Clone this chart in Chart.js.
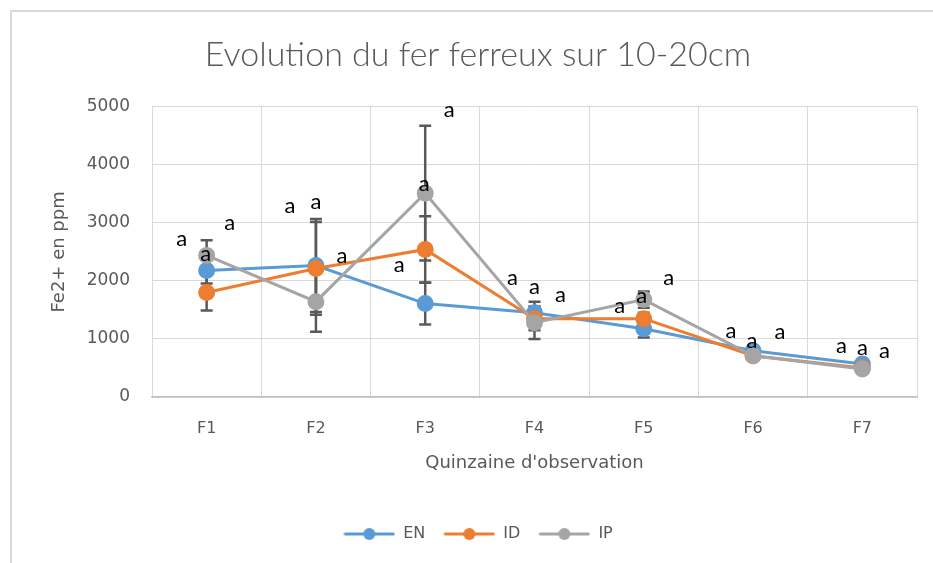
<!DOCTYPE html>
<html>
<head>
<meta charset="utf-8">
<script src="https://cdn.jsdelivr.net/npm/chart.js@4.4.1/dist/chart.umd.min.js"></script>
<style>
  html, body { margin: 0; padding: 0; background: #fff; overflow: hidden; }
  #wrap { width: 933px; height: 563px; }
  canvas { display: block; }
</style>
</head>
<body>
<div id="wrap"><canvas id="myChart" width="933" height="563"></canvas></div>
<script>
// data
const categories = ['F1', 'F2', 'F3', 'F4', 'F5', 'F6', 'F7'];
const seriesNames = ['EN', 'ID', 'IP'];
const enValues = [2180, 2266, 1609, 1453, 1176, 796, 570];
const idValues = [1800, 2215, 2543, 1350, 1350, 710, 500];
const ipValues = [2440, 1643, 3512, 1280, 1678, 710, 484];
// error bar half-lengths (+/-)
const enErrors = [225, 800, 360, 190, 150, 60, 50];
const idErrors = [310, 800, 570, 200, 100, 60, 50];
const ipErrors = [260, 520, 1160, 280, 140, 60, 50];
// significance letters on each point
const enLetters = ['a', 'a', 'a', 'a', 'a', 'a', 'a'];
const idLetters = ['a', 'a', 'a', 'a', 'a', 'a', 'a'];
const ipLetters = ['a', 'a', 'a', 'a', 'a', 'a', 'a'];
const yTicks = [0, 1000, 2000, 3000, 4000, 5000];

const colors = ['#5B9BD5', '#ED7D31', '#A5A5A5'];
const textGray = '#595959';

// where each letter sits relative to its point (px), like the moved Excel labels
const letterOffsets = [
  [[-25, -29], [-26, -57], [-26, -37], [0, -24], [-24, -21], [-22, -18], [-21, -16]],
  [[23, -68], [26, -10], [24, -137], [26, -22], [-2, -21], [-1, -13], [0, -18]],
  [[-1, 1], [0, -98], [-1, -7], [-22, -43], [25, -20], [27, -22], [22, -16]]
];

// legend marker: short line with a dot
function legendMarker(color) {
  const c = document.createElement('canvas');
  c.width = 52; c.height = 14;
  const g = c.getContext('2d');
  g.strokeStyle = color;
  g.lineWidth = 3;
  g.lineCap = 'round';
  g.beginPath(); g.moveTo(2, 7); g.lineTo(50, 7); g.stroke();
  g.fillStyle = color;
  g.beginPath(); g.arc(26, 7, 6, 0, Math.PI * 2); g.fill();
  return c;
}

const frame = {
  id: 'frame',
  beforeDraw(chart) {
    const c = chart.ctx;
    c.save();
    c.fillStyle = '#fff';
    c.fillRect(0, 0, chart.width, chart.height);
    c.strokeStyle = '#d9d9d9';
    c.lineWidth = 2;
    c.strokeRect(11, 11, 1000, 1000);
    c.restore();
  }
};

const errorBars = {
  id: 'errorBars',
  // drawn under the lines and markers, as in the original
  beforeDatasetsDraw(chart) {
    const c = chart.ctx;
    const ys = chart.scales.y;
    const errs = [enErrors, idErrors, ipErrors];
    c.save();
    c.strokeStyle = '#595959';
    c.lineWidth = 2.5;
    chart.data.datasets.forEach((ds, i) => {
      const meta = chart.getDatasetMeta(i);
      meta.data.forEach((pt, j) => {
        const v = ds.data[j];
        const top = ys.getPixelForValue(v + errs[i][j]);
        const bot = ys.getPixelForValue(v - errs[i][j]);
        c.beginPath();
        c.moveTo(pt.x, top); c.lineTo(pt.x, bot);
        c.moveTo(pt.x - 6, top); c.lineTo(pt.x + 6, top);
        c.moveTo(pt.x - 6, bot); c.lineTo(pt.x + 6, bot);
        c.stroke();
      });
    });
    c.restore();
  },
  afterDraw(chart) {
    const c = chart.ctx;
    const letters = [enLetters, idLetters, ipLetters];
    c.save();
    c.fillStyle = '#000';
    c.font = '22px Lato';
    c.textAlign = 'center';
    c.textBaseline = 'alphabetic';
    chart.data.datasets.forEach((ds, i) => {
      chart.getDatasetMeta(i).data.forEach((pt, j) => {
        const off = letterOffsets[i][j];
        c.fillText(letters[i][j], pt.x + off[0], pt.y + off[1] + 5);
      });
    });
    c.restore();
  }
};

const ctx = document.getElementById('myChart').getContext('2d');
const myChart = new Chart(ctx, {
  type: 'line',
  data: {
    labels: categories,
    datasets: [enValues, idValues, ipValues].map((vals, i) => ({
      label: seriesNames[i],
      data: vals,
      borderColor: colors[i],
      backgroundColor: colors[i],
      pointBackgroundColor: colors[i],
      pointBorderColor: colors[i],
      pointRadius: 7,
      pointHoverRadius: 7,
      borderWidth: 3,
      tension: 0,
      order: 2 - i   // grey on top
    }))
  },
  plugins: [frame, errorBars],
  options: {
    responsive: false,
    animation: false,
    events: [],
    layout: { padding: { left: 39, right: 16, top: 0, bottom: 11 } },
    plugins: {
      title: {
        display: true,
        text: 'Evolution du fer ferreux sur 10-20cm',
        color: textGray,
        font: { family: 'Lato', size: 34, weight: 300 },
        padding: { top: 35, bottom: 31 }
      },
      legend: {
        position: 'bottom',
        labels: {
          usePointStyle: true,
          pointStyleWidth: 52,
          boxHeight: 14,
          color: textGray,
          font: { family: 'DejaVu Sans', size: 16 },
          padding: 18,
          sort: (a, b) => a.datasetIndex - b.datasetIndex,
          generateLabels(chart) {
            return chart.data.datasets.map((ds, i) => ({
              text: ds.label,
              pointStyle: legendMarker(colors[i]),
              fillStyle: colors[i],
              strokeStyle: colors[i],
              lineWidth: 0,
              fontColor: textGray,
              hidden: false,
              datasetIndex: i
            }));
          }
        }
      },
      tooltip: { enabled: false }
    },
    scales: {
      x: {
        offset: true,
        grid: { offset: true, color: '#d9d9d9', drawTicks: false },
        border: { color: '#bfbfbf', width: 1.5 },
        ticks: { color: textGray, font: { family: 'DejaVu Sans', size: 16 }, padding: 22 },
        title: {
          display: true,
          text: "Quinzaine d'observation",
          color: textGray,
          font: { family: 'DejaVu Sans', size: 18 },
          padding: { top: 0, bottom: 34 }
        },
        afterFit(scale) { scale.height = 111; }
      },
      y: {
        min: 0,
        max: 5000,
        afterBuildTicks(scale) { scale.ticks = yTicks.map(v => ({ value: v })); },
        grid: { color: '#d9d9d9', drawTicks: false },
        border: { display: false },
        ticks: {
          color: textGray,
          font: { family: 'DejaVu Sans', size: 17 },
          padding: 22,
          callback: (v) => String(v)
        },
        title: {
          display: true,
          text: 'Fe2+ en ppm',
          color: textGray,
          font: { family: 'DejaVu Sans', size: 18 },
          padding: { top: 10, bottom: 0 }
        },
        afterFit(scale) { scale.width = 113; }
      }
    }
  }
});
</script>
</body>
</html>
